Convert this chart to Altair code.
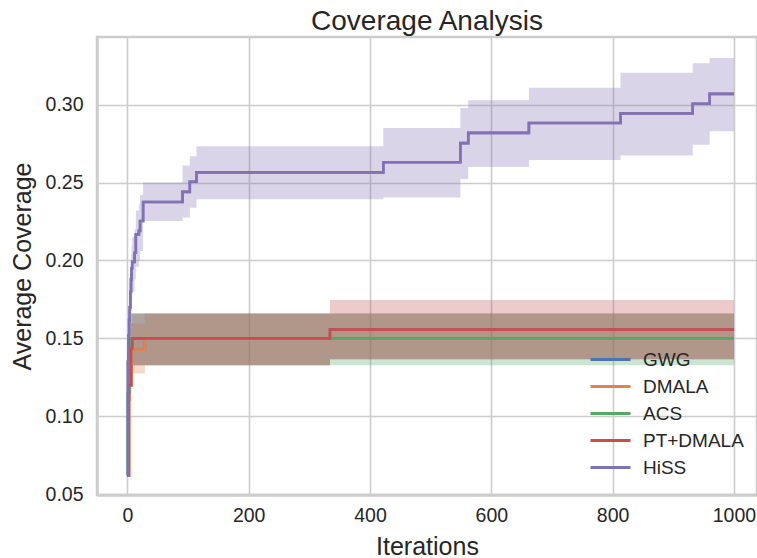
import altair as alt
import pandas as pd

methods = ["GWG", "DMALA", "ACS", "PT+DMALA", "HiSS"]
colors = ["#4C72B0", "#DD8452", "#55A868", "#C44E52", "#8172B3"]

x_ticks = [0, 200, 400, 600, 800, 1000]
y_ticks = [0.05, 0.10, 0.15, 0.20, 0.25, 0.30]

gwg_iter = [0, 2, 5, 334, 1000]
gwg_mean = [0.062, 0.140, 0.150, 0.150, 0.150]
gwg_lo = [0.062, 0.130, 0.1327, 0.1366, 0.1366]
gwg_hi = [0.062, 0.150, 0.166, 0.166, 0.166]

dmala_iter = [0, 3, 7, 29, 334, 1000]
dmala_mean = [0.062, 0.120, 0.1428, 0.150, 0.150, 0.150]
dmala_lo = [0.062, 0.110, 0.1275, 0.1327, 0.1366, 0.1366]
dmala_hi = [0.062, 0.130, 0.1596, 0.166, 0.166, 0.166]

acs_iter = [0, 1, 3, 6, 1000]
acs_mean = [0.062, 0.115, 0.140, 0.150, 0.150]
acs_lo = [0.062, 0.100, 0.125, 0.1327, 0.1327]
acs_hi = [0.062, 0.130, 0.155, 0.166, 0.166]

pt_iter = [0, 2, 6, 8, 334, 1000]
pt_mean = [0.062, 0.120, 0.1434, 0.150, 0.1556, 0.1556]
pt_lo = [0.062, 0.110, 0.130, 0.1327, 0.1366, 0.1366]
pt_hi = [0.062, 0.135, 0.160, 0.166, 0.1747, 0.1747]

hiss_iter = [0, 1, 2, 3, 4, 5, 6, 7, 8, 12, 14, 19, 21, 26, 91, 103, 114,
             422, 549, 562, 662, 813, 932, 960, 1000]
hiss_mean = [0.062, 0.135, 0.152, 0.162, 0.170, 0.180, 0.188, 0.195, 0.199,
             0.205, 0.2167, 0.219, 0.2253, 0.2375, 0.244, 0.2505, 0.2565,
             0.263, 0.2753, 0.2819, 0.2882, 0.2944, 0.3006, 0.3069, 0.3069]
hiss_lo = [0.062, 0.120, 0.135, 0.145, 0.152, 0.160, 0.168, 0.175, 0.180,
           0.188, 0.196, 0.200, 0.206, 0.2253, 0.2275, 0.2339, 0.2393,
           0.2404, 0.2522, 0.260, 0.2645, 0.2673, 0.2742, 0.283, 0.283]
hiss_hi = [0.062, 0.150, 0.168, 0.178, 0.186, 0.196, 0.204, 0.210, 0.215,
           0.220, 0.232, 0.236, 0.242, 0.250, 0.261, 0.2668, 0.2733,
           0.285, 0.2979, 0.3028, 0.3108, 0.3205, 0.3265, 0.330, 0.330]

series = {
    "GWG": (gwg_iter, gwg_mean, gwg_lo, gwg_hi),
    "DMALA": (dmala_iter, dmala_mean, dmala_lo, dmala_hi),
    "ACS": (acs_iter, acs_mean, acs_lo, acs_hi),
    "PT+DMALA": (pt_iter, pt_mean, pt_lo, pt_hi),
    "HiSS": (hiss_iter, hiss_mean, hiss_lo, hiss_hi),
}

rows = []
for m in methods:
    it, mu, lo, hi = series[m]
    for a, b, c, d in zip(it, mu, lo, hi):
        rows.append({"method": m, "iter": a, "mean": b, "lo": c, "hi": d})
df = pd.DataFrame(rows)

FONT = "Liberation Sans"
TEXT = "#262626"
GRID = "#cccccc"

x_scale = alt.Scale(domain=[-50, 1038], nice=False, zero=False)
y_scale = alt.Scale(domain=[0.0495, 0.3434], nice=False, zero=False)

x_enc = alt.X("iter:Q", scale=x_scale,
              axis=alt.Axis(values=x_ticks, title="Iterations", format="d"))
y_axis = alt.Axis(values=y_ticks, title="Average Coverage", format=".2f")

color_scale = alt.Scale(domain=methods, range=colors)

base = alt.Chart(df)


def line_layer(legend):
    return base.mark_line(interpolate="step-after", strokeWidth=2.6, clip=True).encode(
        x=x_enc,
        y=alt.Y("mean:Q", scale=y_scale, axis=y_axis),
        color=alt.Color("method:N", scale=color_scale, legend=legend),
    )


# first line layer carries the legend; the second redraws lines above the bands
lines_legend = line_layer(alt.Legend(title=None))
lines_top = line_layer(None)

bands = base.mark_area(interpolate="step-after", opacity=0.3, clip=True).encode(
    x=x_enc,
    y=alt.Y("lo:Q", scale=y_scale, axis=y_axis),
    y2="hi:Q",
    color=alt.Color("method:N", scale=color_scale, legend=None),
)

chart = alt.layer(lines_legend, bands, lines_top).properties(
    width=660, height=458,
    title=alt.TitleParams("Coverage Analysis", fontSize=28, font=FONT,
                          fontWeight="normal", color=TEXT, anchor="middle",
                          offset=8, dy=7),
    autosize=alt.AutoSizeParams(type="none"),
    padding={"left": 97, "top": 37, "right": 0, "bottom": 63},
).configure_view(stroke=GRID, strokeWidth=2.5).configure_axis(
    grid=True, gridColor=GRID, gridWidth=1.6,
    domain=True, domainColor=GRID, domainWidth=2.5,
    ticks=False, labelFont=FONT, labelFontSize=19.5, labelColor=TEXT,
    titleFont=FONT, titleFontSize=25, titleFontWeight="normal", titleColor=TEXT,
).configure_axisX(
    labelPadding=11, titleY=51, titleBaseline="middle",
).configure_axisY(
    labelPadding=14, titleX=-75, titleBaseline="middle",
).configure_legend(
    orient="none", legendX=492, legendY=309,
    symbolType="stroke", symbolSize=1600, symbolStrokeWidth=3,
    labelFontSize=19, labelFont=FONT, labelColor=TEXT, labelOffset=11,
    clipHeight=27, rowPadding=0, padding=0,
)

chart.save("out.html", embed_options={"renderer": "svg", "actions": False})
